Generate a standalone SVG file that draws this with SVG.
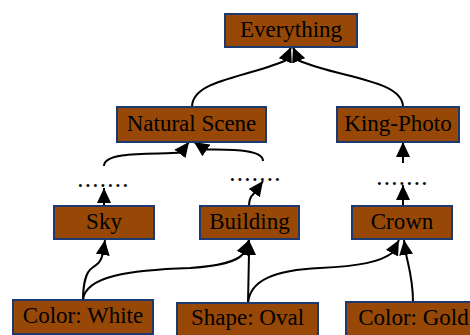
<svg xmlns="http://www.w3.org/2000/svg" width="470" height="335" viewBox="0 0 470 335">
  <style>
    .box { fill: #974806; stroke: #1c3a70; stroke-width: 2; }
    .lbl { font-family: "Liberation Serif", "Times New Roman", serif; font-size: 23px; fill: #000; text-anchor: middle; }
    .dots { font-family: "Liberation Serif", "Times New Roman", serif; font-size: 25px; fill: #000; text-anchor: middle; letter-spacing: 1.25px; }
    .edge { fill: none; stroke: #000; stroke-width: 2; marker-end: url(#arr); }
  </style>
  <defs>
    <marker id="arr" markerUnits="userSpaceOnUse" viewBox="0 0 15 14" markerWidth="15" markerHeight="14" refX="15" refY="7" orient="auto">
      <path d="M0,0 L15,7 L0,14 z" fill="#000"/>
    </marker>
  </defs>
  <rect width="470" height="335" fill="#fff"/>

  <g id="connectors">
    <!-- into Everything -->
    <path class="edge" d="M192,107 C192,80 245,78 285.5,60.5 L291,47"/>
    <path class="edge" d="M403,107 C403,80 340,78 298.5,60.5 L293,47"/>
    <!-- into Natural Scene -->
    <path class="edge" d="M104,166 C104,150 160,155 181,152.5 L189,142"/>
    <path class="edge" d="M263,161 C263,148 225,150 205,149.5 L194,142"/>
    <!-- into King-Photo -->
    <path class="edge" d="M403,163 L403,142"/>
    <!-- into the ellipses -->
    <path class="edge" d="M104,206 L104,188"/>
    <path class="edge" d="M249,206 C249,200 250,197 253.5,194 L263,181"/>
    <path class="edge" d="M403,206 L403,185"/>
    <!-- attributes to parts -->
    <path class="edge" d="M83,300 C83,285 86,272 92,268 C98,264 101,262 103,253 L105,240"/>
    <path class="edge" d="M83,300 C85,276 130,270 190,268 C220,266 236,262 243,254 L249,240"/>
    <path class="edge" d="M248,303 L249,254 L249,240"/>
    <path class="edge" d="M248,303 C250,280 275,270 320,268 C360,266 380,262 392,253 L399,240"/>
    <path class="edge" d="M413,302 C413,280 409,268 406,254 L404,240"/>
  </g>

  <g id="n-everything"><rect class="box" x="225" y="14" width="132" height="33"/><text class="lbl" x="291" y="37">Everything</text></g>
  <g id="n-natural-scene"><rect class="box" x="117" y="107" width="149" height="35"/><text class="lbl" x="191.5" y="131">Natural Scene</text></g>
  <g id="n-king-photo"><rect class="box" x="337" y="107" width="122" height="35"/><text class="lbl" x="398" y="131">King-Photo</text></g>

  <g id="n-dots-sky"><text class="dots" x="103.5" y="187">.......</text></g>
  <g id="n-dots-building"><text class="dots" x="255.5" y="181">.......</text></g>
  <g id="n-dots-crown"><text class="dots" x="402.5" y="185">.......</text></g>

  <g id="n-sky"><rect class="box" x="54" y="206" width="100" height="33"/><text class="lbl" x="104" y="229">Sky</text></g>
  <g id="n-building"><rect class="box" x="200" y="206" width="99" height="33"/><text class="lbl" x="249.5" y="229">Building</text></g>
  <g id="n-crown"><rect class="box" x="352" y="206" width="100" height="33"/><text class="lbl" x="402" y="229">Crown</text></g>

  <g id="n-color-white"><rect class="box" x="13" y="300" width="140" height="34"/><text class="lbl" x="83" y="323">Color: White</text></g>
  <g id="n-shape-oval"><rect class="box" x="177" y="303" width="141" height="34"/><text class="lbl" x="247.5" y="325">Shape: Oval</text></g>
  <g id="n-color-gold"><rect class="box" x="346" y="302" width="135" height="34"/><text class="lbl" x="413.5" y="325">Color: Gold</text></g>
</svg>
